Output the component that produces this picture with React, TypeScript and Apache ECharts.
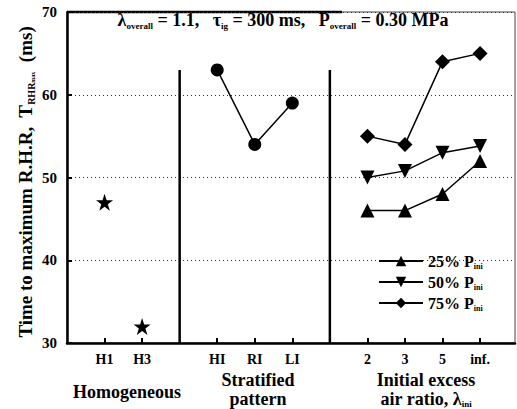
import React, { useEffect, useRef } from "react";
import * as echarts from "echarts";

const tickPositions = [1, 2, 4, 5, 6, 8, 9, 10, 11];
const tickLabels = ["H1", "H3", "HI", "RI", "LI", "2", "3", "5", "inf."];
const homoX = [1, 2];
const homoValues = [47, 32];
const stratX = [4, 5, 6];
const stratValues = [63, 54, 59];
const lambdaX = [8, 9, 10, 11];
const p25Values = [46, 46, 48, 52];
const p50Values = [50, 50.8, 53, 53.8];
const p75Values = [55, 54, 64, 65];
const dividerX = [3, 7];
const dividerRange = [30, 63];
const seriesNames = ["25%", "50%", "75%"];

const FONT = "Liberation Serif";
const STAR = "path://M50,0 L61.8,35.4 L99,35.4 L69,57.3 L80.4,92.7 L50,70.8 L19.6,92.7 L31,57.3 L1,35.4 L38.2,35.4 Z";

const zip = (xs: number[], ys: number[]) => xs.map((x, i) => [x, ys[i]]);

export default function App() {
  const ref = useRef<HTMLDivElement>(null);
  useEffect(() => {
    document.body.style.margin = "0";
    if (!ref.current) return;
    const chart = echarts.init(ref.current, null, { renderer: "svg" });
    const sub = (fs: number) => ({
      fontSize: fs,
      fontFamily: FONT,
      fontWeight: "bold",
      verticalAlign: "bottom",
      lineHeight: 10,
      fill: "#000",
      color: "#000",
    });
    const lineSeries = (name: string, data: number[], symbol: string, rot = 0) => ({
      type: "line",
      name,
      data: zip(lambdaX, data),
      symbol,
      symbolSize: symbol === "diamond" ? 15 : 14,
      symbolRotate: rot,
      lineStyle: { color: "#000", width: 1.5 },
      itemStyle: { color: "#000", opacity: 1 },
    });
    chart.setOption({
      animation: false,
      grid: {
        left: 67,
        top: 12,
        width: 448,
        height: 331,
        show: true,
        borderColor: "#444",
        borderWidth: 1,
      },
      xAxis: {
        type: "value",
        min: 0,
        max: 11.93,
        axisLine: { lineStyle: { color: "#000", width: 2.5 } },
        axisTick: {
          customValues: tickPositions,
          inside: true,
          length: 5,
          lineStyle: { color: "#000", width: 2 },
        },
        axisLabel: {
          customValues: tickPositions,
          formatter: (v: number) => tickLabels[tickPositions.indexOf(Math.round(v))] ?? "",
          fontFamily: FONT,
          fontWeight: "bold",
          fontSize: 14,
          lineHeight: 15,
          color: "#000",
          margin: 9,
        },
        splitLine: { show: false },
      },
      yAxis: {
        type: "value",
        min: 30,
        max: 70,
        interval: 10,
        axisLine: { show: true, lineStyle: { color: "#000", width: 2.5 } },
        axisTick: { show: true, inside: true, length: 5, lineStyle: { color: "#000", width: 2 } },
        axisLabel: {
          fontFamily: FONT,
          fontWeight: "bold",
          fontSize: 15,
          color: "#000",
          margin: 10,
        },
        splitLine: { show: true, lineStyle: { color: "#333", width: 1, type: [1, 3] } },
      },
      legend: {
        data: seriesNames,
        orient: "vertical",
        left: 373,
        top: 247,
        itemWidth: 44,
        itemHeight: 13,
        itemGap: 3,
        formatter: (n: string) => `${n} P{s|ini}`,
        textStyle: {
          fontFamily: FONT,
          fontWeight: "bold",
          fontSize: 16,
          color: "#000",
          lineHeight: 18,
          rich: { s: sub(8) },
        },
      },
      series: [
        ...dividerX.map((x) => ({
          type: "line",
          data: dividerRange.map((y) => [x, y]),
          symbol: "none",
          lineStyle: { color: "#000", width: 2.5 },
          silent: true,
        })),
        {
          type: "scatter",
          data: zip(homoX, homoValues),
          symbol: STAR,
          symbolSize: 17,
          itemStyle: { color: "#000", opacity: 1 },
        },
        {
          type: "line",
          data: zip(stratX, stratValues),
          symbol: "circle",
          symbolSize: 13,
          lineStyle: { color: "#000", width: 1.5 },
          itemStyle: { color: "#000", opacity: 1 },
        },
        lineSeries(seriesNames[0], p25Values, "triangle"),
        lineSeries(seriesNames[1], p50Values, "triangle", 180),
        lineSeries(seriesNames[2], p75Values, "diamond"),
      ],
      graphic: [
        {
          type: "line",
          shape: { x1: 67, y1: 12, x2: 342, y2: 12 },
          style: { stroke: "#000", lineWidth: 2.5 },
        },
        {
          type: "text",
          x: 283,
          y: 20,
          style: {
            text: "λ{s|overall} = 1.1,   τ{s|ig} = 300 ms,   P{s|overall} = 0.30 MPa",
            align: "center",
            verticalAlign: "middle",
            fontFamily: FONT,
            fontWeight: "bold",
            fontSize: 18,
            lineHeight: 20,
            fill: "#000",
            rich: { s: sub(9) },
          },
        },
        {
          type: "text",
          x: 25,
          y: 182,
          rotation: Math.PI / 2,
          style: {
            text: "Time to maximum R.H.R,  T{s|RHR}{t|max}  (ms)",
            align: "center",
            verticalAlign: "middle",
            fontFamily: FONT,
            fontWeight: "bold",
            fontSize: 19,
            lineHeight: 22,
            fill: "#000",
            rich: { s: sub(10), t: { ...sub(6), lineHeight: 6 } },
          },
        },
        {
          type: "text",
          x: 127,
          y: 392,
          style: {
            text: "Homogeneous",
            align: "center",
            verticalAlign: "middle",
            fontFamily: FONT,
            fontWeight: "bold",
            fontSize: 18,
            fill: "#000",
          },
        },
        {
          type: "text",
          x: 258,
          y: 389.5,
          style: {
            text: "Stratified\npattern",
            align: "center",
            verticalAlign: "middle",
            fontFamily: FONT,
            fontWeight: "bold",
            fontSize: 18,
            lineHeight: 19,
            fill: "#000",
          },
        },
        {
          type: "text",
          x: 426,
          y: 389.5,
          style: {
            text: "Initial excess\nair ratio, λ{s|ini}",
            align: "center",
            verticalAlign: "middle",
            fontFamily: FONT,
            fontWeight: "bold",
            fontSize: 18,
            lineHeight: 19,
            fill: "#000",
            rich: { s: { ...sub(9), lineHeight: 19 } },
          },
        },
      ],
    });
    return () => chart.dispose();
  }, []);
  return <div ref={ref} style={{ width: 517, height: 409 }} />;
}
